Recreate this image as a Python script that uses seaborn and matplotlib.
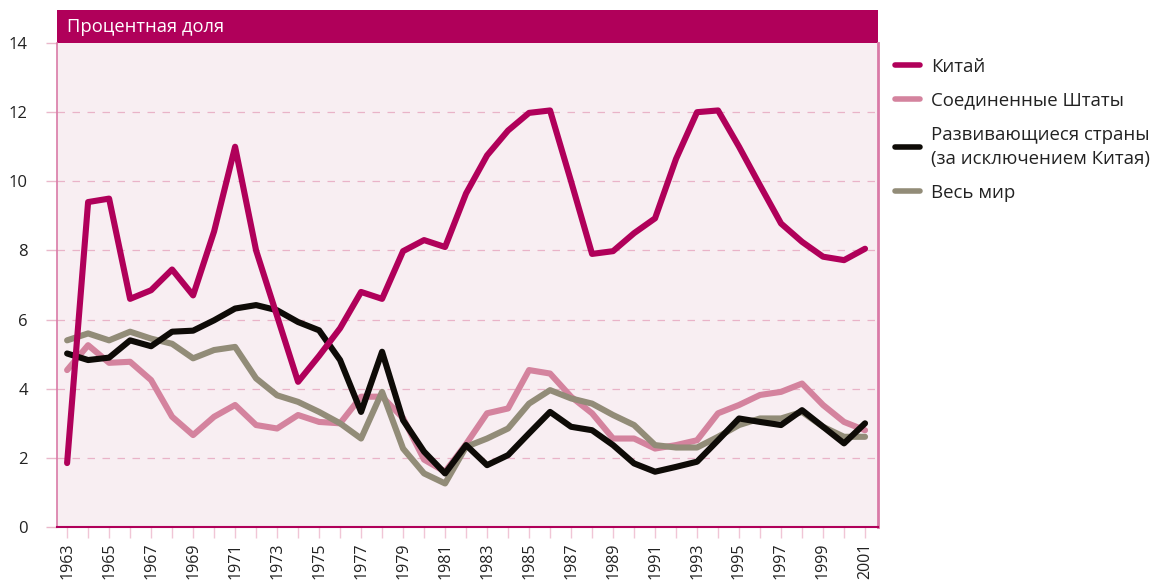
import numpy as np
import pandas as pd
import matplotlib
matplotlib.use("Agg")
import matplotlib.pyplot as plt
from matplotlib.patches import Rectangle
from matplotlib.lines import Line2D
import seaborn as sns

years = list(range(1963, 2002))

china = [1.85, 9.4, 9.5, 6.6, 6.85, 7.45, 6.7, 8.55, 11.0, 8.0,
         6.1, 4.2, 4.95, 5.75, 6.8, 6.6, 7.98, 8.3, 8.1, 9.65,
         10.75, 11.47, 11.98, 12.05, 10.0, 7.9, 7.98, 8.5, 8.93, 10.65,
         12.0, 12.05, 11.0, 9.88, 8.78, 8.25, 7.82, 7.72, 8.05]
usa = [4.54, 5.26, 4.75, 4.78, 4.25, 3.19, 2.66, 3.19, 3.53, 2.95,
       2.85, 3.24, 3.04, 3.0, 3.77, 3.77, 3.15, 1.95, 1.6, 2.4,
       3.29, 3.43, 4.54, 4.44, 3.77, 3.29, 2.56, 2.56, 2.27, 2.37,
       2.51, 3.29, 3.53, 3.82, 3.91, 4.15, 3.53, 3.04, 2.8]
developing = [5.02, 4.83, 4.9, 5.4, 5.23, 5.65, 5.68, 5.98, 6.32, 6.42,
              6.27, 5.93, 5.69, 4.83, 3.33, 5.07, 3.09, 2.18, 1.55, 2.37,
              1.79, 2.08, 2.71, 3.33, 2.9, 2.8, 2.37, 1.84, 1.6, 1.74,
              1.89, 2.51, 3.14, 3.04, 2.95, 3.38, 2.9, 2.42, 3.0]
world = [5.4, 5.6, 5.4, 5.65, 5.45, 5.3, 4.88, 5.12, 5.21, 4.3,
         3.81, 3.62, 3.33, 3.0, 2.56, 3.91, 2.27, 1.55, 1.26, 2.32,
         2.56, 2.85, 3.57, 3.96, 3.72, 3.57, 3.24, 2.95, 2.37, 2.3,
         2.3, 2.61, 2.95, 3.14, 3.14, 3.33, 2.9, 2.61, 2.61]

names = ["Китай", "Соединенные Штаты",
         "Развивающиеся страны\n(за исключением Китая)", "Весь мир"]
colors = ["#b0005a", "#d4839e", "#0e0b07", "#928c78"]
draw_order = [1, 3, 2, 0]  # US, world, developing, China on top

sns.set_style("white")
plt.rcParams['font.family'] = ['Open Sans', 'DejaVu Sans']

df = pd.DataFrame({"year": years * 4,
                   "value": china + usa + developing + world,
                   "series": sum([[n] * len(years) for n in names], [])})

fig = plt.figure(figsize=(11.52, 5.88), dpi=100)
ax = fig.add_axes([0.0495, 0.1037, 0.7127, 0.8231])
ax.set_facecolor("#f8eef2")

sns.lineplot(data=df, x="year", y="value", hue="series",
             hue_order=[names[i] for i in draw_order],
             palette=[colors[i] for i in draw_order],
             linewidth=4.4, ax=ax, legend=False)
for ln in ax.lines:
    ln.set_solid_capstyle("round")
    ln.set_solid_joinstyle("round")

ax.set_xlim(1962.52, 2001.62)
ax.set_ylim(0, 14)
ax.set_xlabel("")
ax.set_ylabel("")

ax.set_xticks(years)
ax.set_xticklabels([str(y) if y % 2 == 1 else "" for y in years],
                   rotation=90, fontsize=11.5, color="#222222")
ax.set_yticks(range(0, 15, 2))
ax.set_yticklabels([str(v) for v in range(0, 15, 2)], fontsize=12, color="#222222")
ax.tick_params(axis="x", length=8, width=1, color="#f0c6d6", pad=3, bottom=True)
ax.tick_params(axis="y", length=8, width=1, color="#eab8cb", pad=13, left=True)

for v in range(2, 13, 2):
    ax.axhline(v, color="#e9b3c8", lw=0.9, dashes=(6, 6), zorder=0.5)

ax.spines["top"].set_visible(False)
ax.spines["left"].set_color("#d97aa7")
ax.spines["right"].set_color("#d97aa7")
ax.spines["left"].set_linewidth(1.2)
ax.spines["right"].set_linewidth(2)
ax.spines["bottom"].set_color("#b0005a")
ax.spines["bottom"].set_linewidth(1.5)

# header band
hdr = Rectangle((0, 1.0), 1.0, 33 / 484, transform=ax.transAxes,
                facecolor="#b0005a", edgecolor="none", clip_on=False)
ax.add_patch(hdr)
ax.text(0.012, 1.0 + 16.5 / 484, "Процентная доля", transform=ax.transAxes,
        color="white", fontsize=13.2, va="center", ha="left")

handles = [Line2D([0], [0], color=c, lw=4) for c in colors]
leg = fig.legend(handles, names, loc="upper left", bbox_to_anchor=(0.762, 0.93),
                 frameon=False, fontsize=13.4, handlelength=1.35, handletextpad=0.6,
                 labelspacing=0.85, labelcolor="#222222")
for t in leg.get_texts():
    t.set_linespacing(1.45)

fig.savefig("out.png", dpi=100, facecolor="white")
